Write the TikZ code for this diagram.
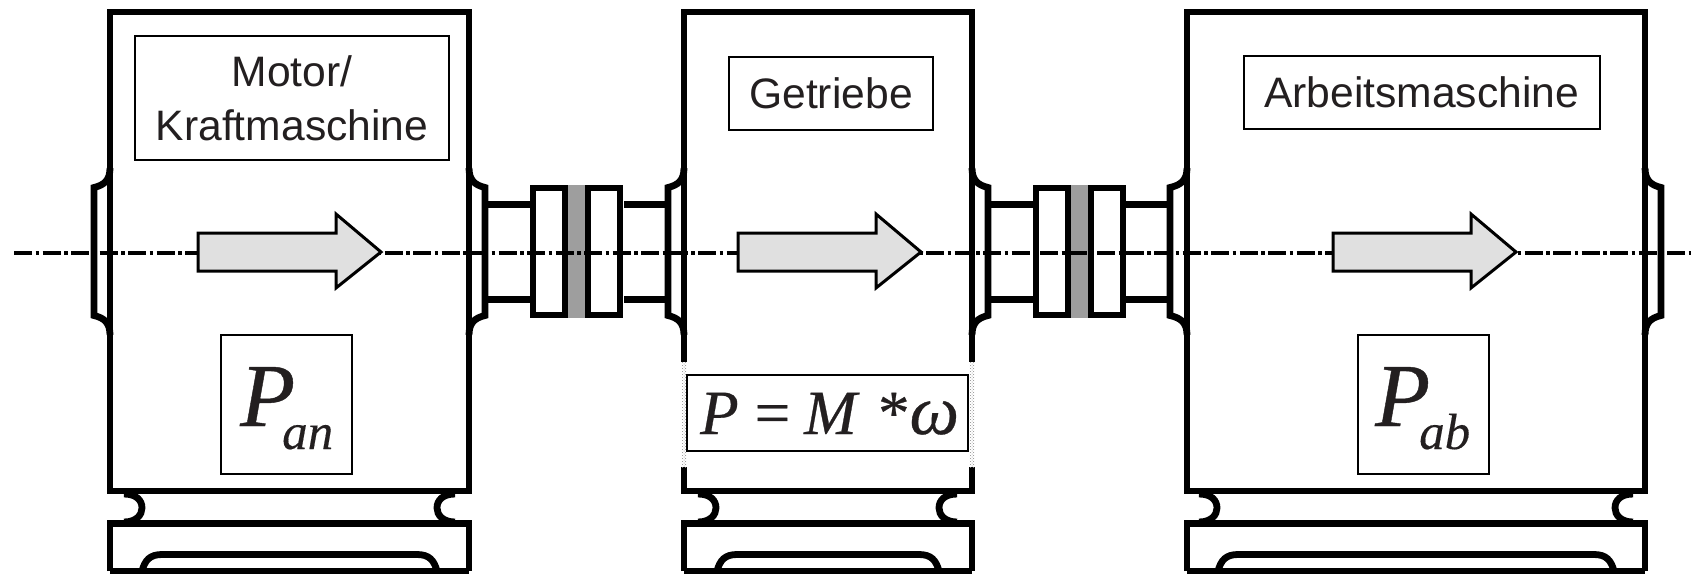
\documentclass[tikz,border=0pt]{standalone}
\usepackage{fontspec}
\setmainfont{Liberation Sans}
\newfontfamily\mathserif[FakeBold=0.25]{Liberation Serif}
\newfontfamily\mathserifbig[FakeBold=0.45]{Liberation Serif}
\usetikzlibrary{calc,patterns}
\definecolor{ink}{HTML}{231F20}
\tikzset{
  x=1pt,y=-1pt,
  heavy/.style={draw=black,line width=6.8pt,line join=miter},
  thinbox/.style={draw=black,line width=2pt,fill=white,inner sep=0pt,text=ink,align=center,anchor=north west},
  powerarrow/.style={draw=black,line width=3pt,fill=black!12,line join=miter},
  axisline/.style={draw=black,line width=4pt,dash pattern=on 18pt off 3.5pt on 3.5pt off 3.5pt},
  label/.style={font=\fontsize{42.6}{54}\selectfont},
}
% machine: left, right, notch-left, notch-right (inner extreme), arch-left, arch-right
\newcommand{\machine}[6]{%
  \draw[heavy] (#1,12) rectangle (#2,491);
  \draw[heavy] (#1,571) -- (#1,523.5) -- (#2,523.5) -- (#2,571);
  \draw[heavy] (#1,571) -- (#2,571);
  \draw[heavy] (#3-18,494) .. controls (#3-6,494) and (#3,500) .. (#3,508) .. controls (#3,515) and (#3-6,522) .. (#3-18,522);
  \draw[heavy] (#4+18,494) .. controls (#4+6,494) and (#4,500) .. (#4,508) .. controls (#4,515) and (#4+6,522) .. (#4+18,522);
  \draw[heavy] (#5,571) .. controls (#5+3,560) and (#5+8,554.5) .. (#5+20,554.5) -- (#6-20,554.5) .. controls (#6-8,554.5) and (#6-3,560) .. (#6,571);
}
% flange: box side x, flange x
\newcommand{\flange}[2]{%
  \draw[heavy] (#1,168) .. controls (#1,180) and ($(#1,185)!.35!(#2,185)$) .. (#2,187.5) -- (#2,315.5) .. controls ($(#1,318)!.35!(#2,318)$) and (#1,323) .. (#1,335);
}
% coupling: left outer x of the coupling
\newcommand{\coupling}[1]{%
  \fill[black!38] (#1+38,185) rectangle (#1+55,318);
  \draw[heavy] (#1+3,188) rectangle (#1+35,315);
  \draw[heavy] (#1+58,188) rectangle (#1+90,315);
}
\newcommand{\powerarrow}[1]{%
  \draw[powerarrow] (#1,233) -- (#1+138,233) -- (#1+138,214) -- (#1+183,252) -- (#1+138,288) -- (#1+138,271) -- (#1,271) -- cycle;
}
\begin{document}
\begin{tikzpicture}
\useasboundingbox (0,0) rectangle (1691,574);
\fill[white] (0,0) rectangle (1691,574);
% shafts
\foreach \a/\b in {485/530,624/668,988/1033,1126/1170}{
  \draw[heavy,line width=7.6pt] (\a,204.5) -- (\b,204.5);
  \draw[heavy,line width=7.6pt] (\a,299.5) -- (\b,299.5);
}
% machines
\machine{110}{469}{142}{437}{142}{437}
\machine{684}{972}{716}{939}{717}{939}
\machine{1187}{1645}{1217}{1615}{1218}{1614}
% flanges
\flange{110}{94}
\flange{469}{485}
\flange{684}{668}
\flange{972}{988}
\flange{1187}{1170}
\flange{1645}{1661}
% couplings
\coupling{530}
\coupling{1033}
% axis
\draw[axisline] (14,253) -- (1691,253);
% power arrows
\powerarrow{198}
\powerarrow{738}
\powerarrow{1333}
% gap in the gearbox walls
\fill[white] (680,362) rectangle (688,467);
\fill[white] (968,362) rectangle (976,467);
\fill[pattern=crosshatch dots,pattern color=black!45] (681.5,362) rectangle (686.5,467);
\fill[pattern=crosshatch dots,pattern color=black!45] (969.5,362) rectangle (974.5,467);
% labels
\node[thinbox,label,minimum width=314pt,minimum height=124pt] (motor) at (134,35) {Motor/\\Kraftmaschine};
\node[thinbox,label,minimum width=204pt,minimum height=73pt] (getriebe) at (728,56) {Getriebe};
\node[thinbox,label,minimum width=356pt,minimum height=73pt] (arbeit) at (1242.5,55) {Arbeitsmaschine};
\node[thinbox,minimum width=131pt,minimum height=139pt] (pan) at (220,333.5) {};
\node[thinbox,minimum width=131pt,minimum height=139pt] (pab) at (1356.5,333.5) {};
\node[thinbox,minimum width=281pt,minimum height=76pt] (formel) at (686,373.5) {};
\node[anchor=base west,inner sep=0pt,text=ink,font=\mathserifbig\itshape\fontsize{90}{90}\selectfont] (panP) at (240,426) {P};
\node[anchor=base west,inner sep=0pt,text=ink,font=\mathserif\itshape\fontsize{51}{51}\selectfont] (pansub) at (282,449) {an};
\node[anchor=base west,inner sep=0pt,text=ink,font=\mathserifbig\itshape\fontsize{90}{90}\selectfont] (pabP) at (1375,426) {P};
\node[anchor=base west,inner sep=0pt,text=ink,font=\mathserif\itshape\fontsize{51}{51}\selectfont] (pabsub) at (1419,449) {ab};
\node[anchor=base west,inner sep=0pt,text=ink,font=\mathserifbig\fontsize{63}{63}\selectfont] (formeltext) at (700,434) {\textit{P}\kern 16pt=\kern 14pt\textit{M}\kern 18.5pt*\kern 0pt{\fontsize{70}{70}\selectfont\textit{ω}}};
\end{tikzpicture}
\end{document}
